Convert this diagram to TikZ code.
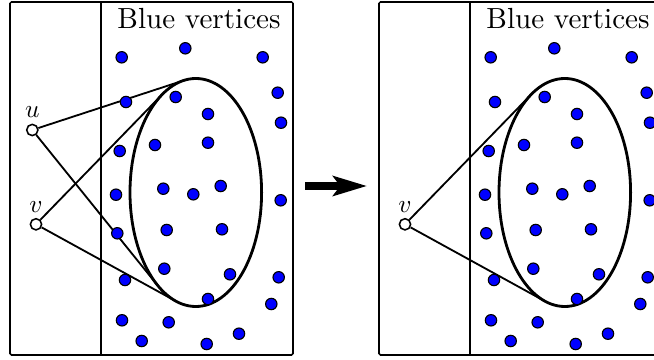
\documentclass[tikz,border=0pt]{standalone}
\usetikzlibrary{positioning,arrows.meta}

\tikzset{
  panel/.style={line width=1.1pt,rounded corners=1pt},
  bluedot/.style={circle,fill=blue,draw=black,line width=0.8pt,inner sep=0pt,minimum size=8.1pt},
  vertex/.style={circle,fill=white,draw=black,line width=1.1pt,inner sep=0pt,minimum size=8pt},
  vlabel/.style={scale=1.8,inner sep=1pt},
  edge/.style={line width=1.3pt},
  blob/.style={line width=2pt}
}

\begin{document}
\begin{tikzpicture}[x=0.025cm,y=-0.025cm]
\clip (0,0) rectangle (654,360);
% the two panels: box, split line, title, ellipse
\foreach \sx/\p in {0/L,369/R}{
  \begin{scope}[shift={(\sx,0)}]
  \draw[panel] (10,2) rectangle (293,355);
  \draw[panel] (101,2) -- (101,355);
  \node[scale=2.07] (title\p) at (199,19) {Blue vertices};
  \draw[blob] (195.8,192.5) ellipse [x radius=65.8, y radius=114];
  \end{scope}
}

% left panel: u and v
\node[vertex] (u) at (32.3,130) {};
\node[vertex] (v) at (36,224.3) {};
\node[vlabel,above=2pt of u] (uLab) {$u$};
\node[vlabel,above=2pt of v] (vLab) {$v$};
\coordinate (uTop) at (183.6,80.5);
\coordinate (uBot) at (157.5,285.3);
\coordinate (vTop) at (162.2,94.5);
\coordinate (vBot) at (175.9,301.2);
\draw[edge] (u) -- (uTop);
\draw[edge] (u) -- (uBot);
\draw[edge] (v) -- (vTop);
\draw[edge] (v) -- (vBot);

% right panel: only v
\node[vertex] (w) at (405,224.3) {};
\node[vlabel,above=2pt of w] (wLab) {$v$};
\coordinate (wTop) at (531.2,94.5);
\coordinate (wBot) at (544.9,301.2);
\draw[edge] (w) -- (wTop);
\draw[edge] (w) -- (wBot);

% blue vertices, same in both panels
\foreach \sx/\p in {0/L,369/R}{
  \begin{scope}[shift={(\sx,0)}]
  \foreach \x/\y [count=\i] in {121.7/57.3, 185.3/48.3, 262.7/57.3, 277.7/92.7,
      281/122.7, 126/102, 175.7/97, 208/114, 208/142.7, 155/145, 119.7/151,
      116/194.7, 163.3/188.7, 193.3/194.3, 220.7/186, 280.7/200.3, 117.3/233.3,
      166.7/230, 222/229.3, 164.3/268.7, 230/274.3, 278.7/277.3, 125/280,
      208/299, 271.3/304, 122/320.3, 168.7/322.3, 141.7/341, 206.7/344, 239/333.7}
    \node[bluedot] (b\p\i) at (\x,\y) {};
  \end{scope}
}

% arrow between the panels
\coordinate (arrS) at (305,186);
\coordinate (arrE) at (367,186);
\draw[line width=5.4pt,-{Stealth[length=24pt,width=14pt,inset=5pt]}] (arrS) -- (arrE);
\end{tikzpicture}
\end{document}
